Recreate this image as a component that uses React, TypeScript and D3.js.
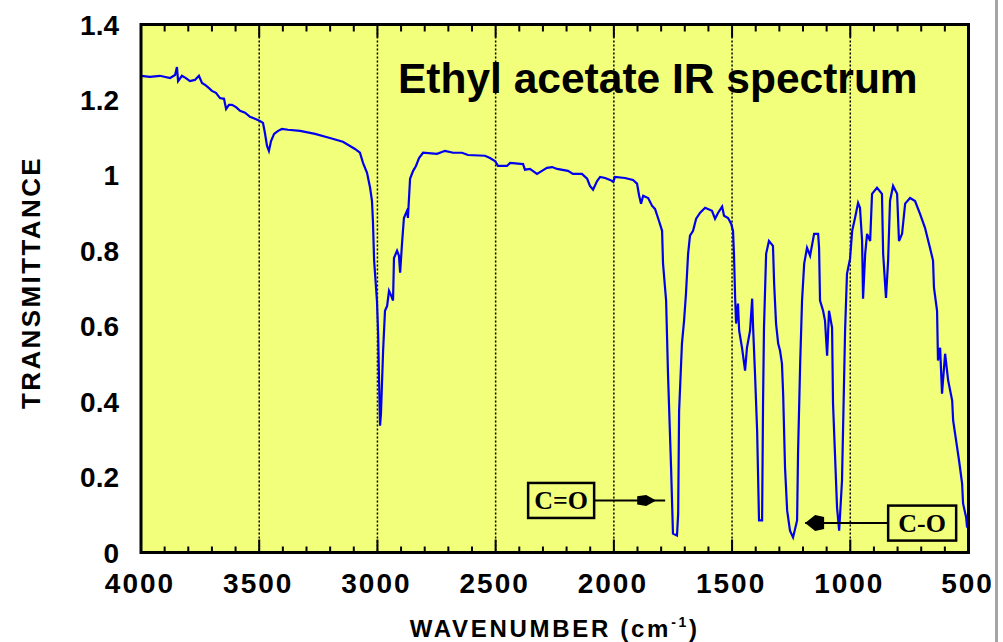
import React from "react";
import * as d3 from "d3";

const wavenumbers = [4000,3962,3920,3877,3856,3848,3843,3827,3810,3793,3772,3755,3742,3729,3717,3700,3683,3666,3649,3640,3628,3615,3598,3581,3560,3539,3518,3497,3484,3476,3467,3459,3450,3437,3420,3404,3378,3327,3264,3201,3146,3116,3095,3074,3061,3044,3031,3023,3019,3014,3002,2997,2993,2989,2985,2976,2968,2959,2951,2942,2934,2930,2917,2909,2904,2896,2888,2875,2871,2862,2849,2837,2824,2807,2748,2714,2680,2642,2617,2545,2524,2503,2490,2452,2439,2384,2376,2355,2325,2304,2283,2261,2240,2194,2173,2135,2113,2101,2088,2071,2058,2037,2016,2003,1995,1953,1919,1902,1893,1885,1876,1855,1838,1826,1809,1796,1792,1779,1771,1758,1750,1733,1728,1724,1712,1703,1695,1686,1678,1665,1652,1635,1614,1585,1572,1559,1542,1534,1517,1504,1496,1492,1487,1483,1475,1470,1458,1445,1437,1424,1415,1411,1403,1394,1386,1373,1369,1365,1356,1344,1327,1322,1314,1305,1297,1289,1284,1276,1267,1255,1242,1225,1221,1212,1204,1195,1183,1170,1153,1136,1132,1128,1115,1107,1098,1090,1077,1073,1056,1047,1035,1022,1014,1001,992,980,967,959,950,946,937,929,916,908,887,866,861,849,840,832,819,802,794,781,768,747,726,705,684,663,650,646,633,629,620,612,599,586,569,565,548,540,527,523,510,506];

const transmittance = [1.264,1.261,1.264,1.258,1.266,1.287,1.250,1.264,1.258,1.250,1.253,1.264,1.245,1.240,1.234,1.224,1.219,1.205,1.203,1.176,1.187,1.187,1.181,1.171,1.166,1.155,1.150,1.144,1.139,1.113,1.078,1.065,1.091,1.110,1.118,1.123,1.121,1.118,1.110,1.099,1.089,1.078,1.070,1.060,1.033,1.007,0.967,0.932,0.879,0.774,0.668,0.580,0.456,0.336,0.368,0.535,0.641,0.654,0.694,0.681,0.668,0.781,0.800,0.787,0.742,0.819,0.887,0.906,0.887,0.991,1.012,1.025,1.046,1.060,1.057,1.065,1.060,1.060,1.054,1.052,1.046,1.038,1.025,1.025,1.033,1.030,1.015,1.017,1.004,1.012,1.020,1.022,1.017,1.012,1.004,1.004,0.991,0.972,0.962,0.985,0.996,0.993,0.988,0.983,0.996,0.993,0.988,0.978,0.946,0.925,0.946,0.940,0.919,0.911,0.879,0.853,0.766,0.668,0.474,0.225,0.050,0.045,0.103,0.376,0.554,0.615,0.686,0.792,0.840,0.853,0.885,0.901,0.914,0.906,0.885,0.901,0.917,0.893,0.887,0.872,0.853,0.792,0.675,0.607,0.660,0.588,0.543,0.482,0.543,0.588,0.673,0.596,0.474,0.323,0.085,0.085,0.395,0.596,0.792,0.826,0.813,0.712,0.607,0.554,0.535,0.501,0.421,0.225,0.111,0.058,0.040,0.085,0.262,0.501,0.668,0.766,0.808,0.787,0.845,0.845,0.808,0.668,0.641,0.615,0.522,0.641,0.596,0.395,0.119,0.058,0.191,0.588,0.739,0.779,0.853,0.887,0.927,0.914,0.826,0.673,0.792,0.845,0.826,0.951,0.967,0.951,0.792,0.675,0.774,0.932,0.972,0.951,0.826,0.845,0.925,0.940,0.932,0.898,0.861,0.808,0.774,0.702,0.641,0.509,0.543,0.421,0.527,0.456,0.403,0.350,0.278,0.244,0.183,0.130,0.093,0.066];

const xTickValues = [4000, 3500, 3000, 2500, 2000, 1500, 1000, 500];
const xTickLabels = ["4000", "3500", "3000", "2500", "2000", "1500", "1000", "500"];
const gridValues = [3500, 3000, 2500, 2000, 1500, 1000];
const yTickValues = [0, 0.2, 0.4, 0.6, 0.8, 1, 1.2, 1.4];
const yTickLabels = ["0", "0.2", "0.4", "0.6", "0.8", "1", "1.2", "1.4"];

const annotations = [
  { label: "C=O", w: 2223, t: 0.138, arrowTo: 1783, side: "right" },
  { label: "C-O", w: 696, t: 0.078, arrowTo: 1191, side: "left" },
];

const W = 1003;
const H = 642;
const X0 = 141;
const X1 = 968.5;
const Y0 = 24.5;
const Y1 = 552.5;
const BG = "#f2ff7a";
const LINE = "#0000ee";
const LABEL_FONT = "'Liberation Sans', Arial, sans-serif";

export default function App() {
  const x = d3.scaleLinear().domain([4000, 500]).range([X0, X1]);
  const y = d3.scaleLinear().domain([0, 1.4]).range([Y1, Y0]);

  const pts = wavenumbers.map((w, i) => [w, transmittance[i]] as [number, number]);
  const line = d3
    .line<[number, number]>()
    .x((d) => x(d[0]))
    .y((d) => y(d[1]));

  const minorTicks = d3.range(3900, 500, -100).filter((v) => v % 500 !== 0);

  return (
    <svg
      width={W}
      height={H}
      style={{ position: "absolute", left: 0, top: 0, background: "#fff" }}
    >
      <rect x={0} y={0} width={W} height={H} fill="#fff" />
      <rect x={995} y={0} width={3} height={H} fill="#a4a4a4" />
      <rect x={X0} y={Y0} width={X1 - X0} height={Y1 - Y0} fill={BG} />

      {gridValues.map((v) => (
        <line
          key={"g" + v}
          x1={x(v)}
          x2={x(v)}
          y1={Y0}
          y2={Y1}
          stroke="#000"
          strokeWidth={1.5}
          strokeDasharray="2,2"
        />
      ))}

      {minorTicks.map((v) => (
        <g key={"m" + v}>
          <line x1={x(v)} x2={x(v)} y1={Y1} y2={Y1 - 6} stroke="#000" strokeWidth={2} />
          <line x1={x(v)} x2={x(v)} y1={Y0} y2={Y0 + 7} stroke="#000" strokeWidth={2} />
        </g>
      ))}
      {gridValues.map((v) => (
        <g key={"M" + v}>
          <line x1={x(v)} x2={x(v)} y1={Y1} y2={Y1 - 13} stroke="#000" strokeWidth={2} />
          <line x1={x(v)} x2={x(v)} y1={Y0} y2={Y0 + 13} stroke="#000" strokeWidth={2} />
        </g>
      ))}

      <path d={line(pts) || ""} fill="none" stroke={LINE} strokeWidth={2.2} strokeLinejoin="miter" />

      {annotations.map((a) => {
        const cx = x(a.w);
        const cy = y(a.t);
        const bw = a.label === "C=O" ? 66 : 68;
        const bh = 35;
        const bx0 = cx - bw / 2;
        const bx1 = cx + bw / 2;
        const tipX = x(a.arrowTo);
        const dir = a.side === "right" ? 1 : -1;
        const startX = dir === 1 ? bx1 : bx0;
        const headTip = dir === 1 ? tipX - 9 : tipX;
        const hb = headTip - dir * 10;
        const hr = hb - dir * 9;
        const hh = dir === 1 ? 5.5 : 8;
        return (
          <g key={a.label}>
            <line x1={startX} x2={tipX} y1={cy} y2={cy} stroke="#000" strokeWidth={2} />
            <polygon
              points={`${headTip},${cy} ${hb},${cy - hh} ${hr},${cy - hh * 0.75} ${hr},${cy + hh * 0.75} ${hb},${cy + hh}`}
              fill="#000"
            />
            <rect
              x={bx0}
              y={cy - bh / 2}
              width={bw}
              height={bh}
              fill={BG}
              stroke="#000"
              strokeWidth={2.5}
            />
            <text
              x={cx}
              y={cy + 8.5}
              textAnchor="middle"
              fontFamily="'Liberation Serif', 'Times New Roman', serif"
              fontWeight="bold"
              fontSize={26}
              fill="#000"
            >
              {a.label}
            </text>
          </g>
        );
      })}

      <rect
        x={X0}
        y={Y0}
        width={X1 - X0}
        height={Y1 - Y0}
        fill="none"
        stroke="#000"
        strokeWidth={3}
      />

      <text
        x={398}
        y={93}
        fontFamily={LABEL_FONT}
        fontWeight="bold"
        fontSize={42.5}
        fill="#000"
      >
        Ethyl acetate IR spectrum
      </text>

      {yTickValues.map((v, i) => (
        <text
          key={"y" + v}
          x={119}
          y={y(v) + 10}
          textAnchor="end"
          fontFamily={LABEL_FONT}
          fontWeight="bold"
          fontSize={28}
          fill="#000"
        >
          {yTickLabels[i]}
        </text>
      ))}

      {xTickValues.map((v, i) => (
        <text
          key={"x" + v}
          x={x(v) - 1}
          y={593}
          textAnchor="middle"
          fontFamily={LABEL_FONT}
          fontWeight="bold"
          fontSize={28}
          letterSpacing={2}
          fill="#000"
        >
          {xTickLabels[i]}
        </text>
      ))}

      <text
        x={(X0 + X1) / 2}
        y={637}
        textAnchor="middle"
        fontFamily={LABEL_FONT}
        fontWeight="bold"
        fontSize={24}
        letterSpacing={2.7}
        fill="#000"
      >
        WAVENUMBER (cm
        <tspan fontSize={14} dy={-10}>-1</tspan>
        <tspan dy={10}>)</tspan>
      </text>

      <text
        transform={`translate(40, ${(Y0 + Y1) / 2 - 6}) rotate(-90)`}
        textAnchor="middle"
        fontFamily={LABEL_FONT}
        fontWeight="bold"
        fontSize={26}
        letterSpacing={2.4}
        fill="#000"
      >
        TRANSMITTANCE
      </text>
    </svg>
  );
}
